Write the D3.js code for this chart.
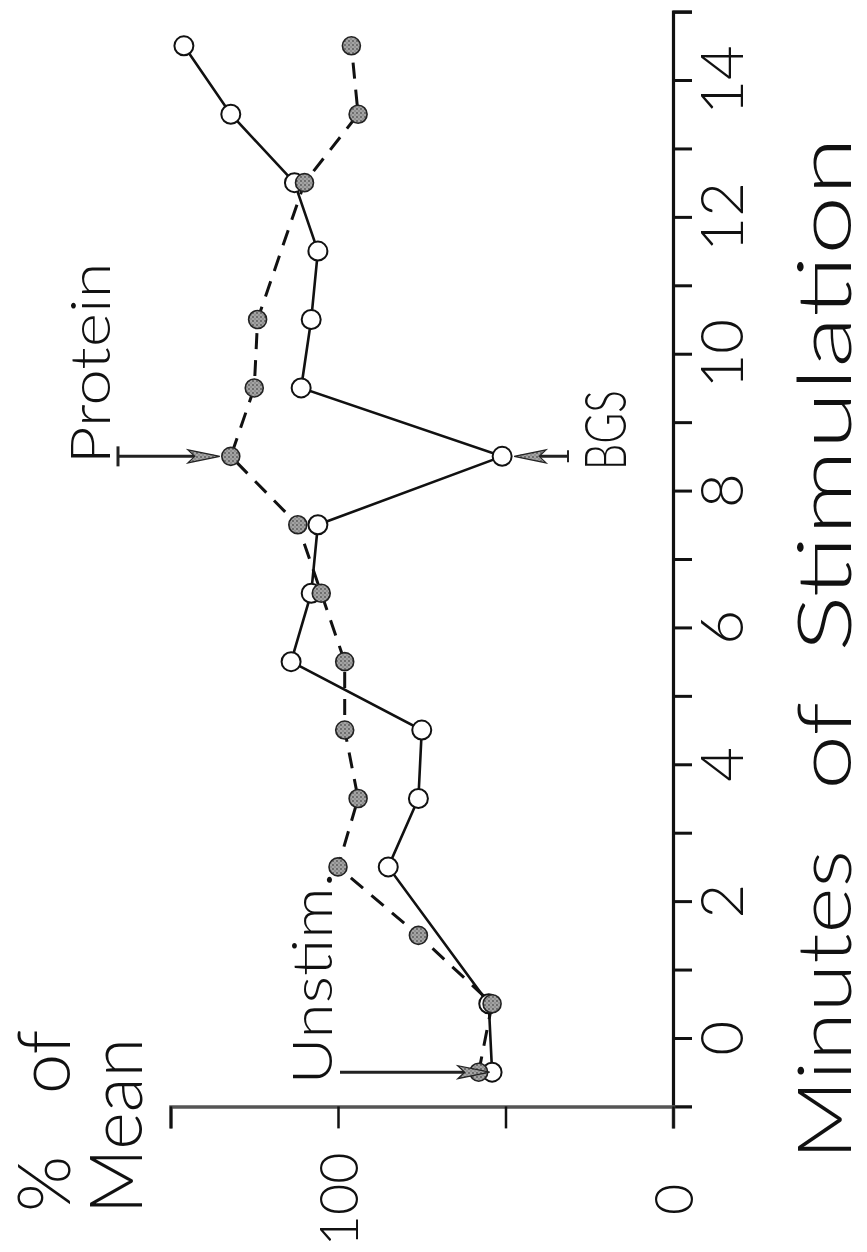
<!DOCTYPE html>
<html>
<head>
<meta charset="UTF-8">
<script src="https://cdnjs.cloudflare.com/ajax/libs/d3/7.8.5/d3.min.js"></script>
<style>
  body { margin: 0; background: #fff; }
  svg text { font-family: Lato, "DejaVu Sans", sans-serif; font-weight: 300; fill: #111; }
</style>
</head>
<body>
<svg id="chart" width="867" height="1252"></svg>
<script>
// minutes of stimulation (x) and % of mean (y); the figure is turned on its side
const bgsMinutes = [-0.5, 0.5, 2.5, 3.5, 4.5, 5.5, 6.5, 7.5, 8.5, 9.5, 10.5, 11.5, 12.5, 13.5, 14.5];
const bgsValues  = [54, 55, 85, 76, 75, 114, 108, 106, 51, 111, 108, 106, 113, 132, 146];

const proteinMinutes = [-0.5, 0.5, 1.5, 2.5, 3.5, 4.5, 5.5, 6.5, 7.5, 8.5, 9.5, 10.5, 12.5, 13.5, 14.5];
const proteinValues  = [58, 54, 76, 100, 94, 98, 98, 105, 112, 132, 125, 124, 110, 94, 96];

const minuteTicks = d3.range(0, 16);
const minuteLabels = [0, 2, 4, 6, 8, 10, 12, 14];
const percentTicks = [0, 50, 100, 150];
const percentLabels = [0, 100];

const svg = d3.select("#chart");

// stippled grey for the filled dots
const defs = svg.append("defs");
const pat = defs.append("pattern")
    .attr("id", "stipple")
    .attr("width", 4).attr("height", 4)
    .attr("patternUnits", "userSpaceOnUse");
pat.append("rect").attr("width", 4).attr("height", 4).attr("fill", "#a4a4a4");
pat.append("circle").attr("cx", 1).attr("cy", 1).attr("r", 0.9).attr("fill", "#555");
pat.append("circle").attr("cx", 3).attr("cy", 3).attr("r", 0.7).attr("fill", "#6a6a6a");

// time runs bottom -> top, percent runs right -> left
const t = d3.scaleLinear().domain([-1, 15]).range([1106.4, 11.6]);
const v = d3.scaleLinear().domain([0, 150]).range([673, 170.5]);

const x0 = v(0), y0 = t(-1);

// --- axes
const tAxis = svg.append("g")
    .attr("transform", `translate(${x0},0)`)
    .call(d3.axisRight(t).tickValues(minuteTicks).tickSize(19).tickFormat(""));
tAxis.select(".domain").attr("stroke", "#111").attr("stroke-width", 3.2);
tAxis.selectAll(".tick line").attr("stroke", "#111").attr("stroke-width", 3);

const vAxis = svg.append("g")
    .attr("transform", `translate(0,${y0})`)
    .call(d3.axisBottom(v).tickValues(percentTicks).tickSize(22).tickFormat(""));
vAxis.select(".domain").attr("stroke", "#555").attr("stroke-width", 3.5);
vAxis.selectAll(".tick line").attr("stroke", "#111").attr("stroke-width", 2.5);

svg.selectAll(".tlab").data(minuteLabels).enter().append("text")
    .attr("class", "tlab")
    .attr("transform", d => `translate(${x0 + 70},${t(d)}) rotate(-90)`)
    .attr("text-anchor", "middle")
    .attr("font-size", 60)
    .text(d => d);

svg.selectAll(".vlab").data(percentLabels).enter().append("text")
    .attr("class", "vlab")
    .attr("transform", d => `translate(${v(d) + 20},${y0 + 93}) rotate(-90)`)
    .attr("text-anchor", "middle")
    .attr("font-size", 54)
    .text(d => d);

// axis titles
const yTitle = [
  { word: "%", x: 70, start: 1212 },
  { word: "of", x: 70, start: 1094 },
  { word: "Mean", x: 142, start: 1214 }
];
svg.selectAll(".ytitle").data(yTitle).enter().append("text")
    .attr("class", "ytitle")
    .attr("transform", d => `translate(${d.x},${d.start}) rotate(-90)`)
    .attr("font-size", 72)
    .attr("font-weight", 200)
    .text(d => d.word);

const xTitle = [
  { word: "Minutes", start: 1160, len: 310 },
  { word: "of", start: 790, len: 88 },
  { word: "Stimulation", start: 652, len: 515 }
];
svg.selectAll(".xtitle").data(xTitle).enter().append("text")
    .attr("class", "xtitle")
    .attr("transform", d => `translate(851,${d.start}) rotate(-90)`)
    .attr("font-size", 74)
    .attr("font-weight", 200)
    .attr("textLength", d => d.len)
    .attr("lengthAdjust", "spacingAndGlyphs")
    .text(d => d.word);

// --- series lines
const bgsData = bgsMinutes.map((m, i) => ({ m, val: bgsValues[i] }));
const proteinData = proteinMinutes.map((m, i) => ({ m, val: proteinValues[i] }));

const line = d3.line().x(d => v(d.val)).y(d => t(d.m));

svg.append("path").datum(proteinData)
    .attr("d", line)
    .attr("fill", "none")
    .attr("stroke", "#111")
    .attr("stroke-width", 3)
    .attr("stroke-dasharray", "16 11");

svg.append("path").datum(bgsData)
    .attr("d", line)
    .attr("fill", "none")
    .attr("stroke", "#111")
    .attr("stroke-width", 2.6);

svg.selectAll(".open").data(bgsData).enter().append("circle")
    .attr("class", "open")
    .attr("cx", d => v(d.val))
    .attr("cy", d => t(d.m))
    .attr("r", 9.5)
    .attr("fill", "#fff")
    .attr("stroke", "#111")
    .attr("stroke-width", 2);

svg.selectAll(".filled").data(proteinData).enter().append("circle")
    .attr("class", "filled")
    .attr("cx", d => v(d.val))
    .attr("cy", d => t(d.m))
    .attr("r", 9)
    .attr("fill", "url(#stipple)")
    .attr("stroke", "#222")
    .attr("stroke-width", 1.6);

// --- annotation arrows
function arrow(xFrom, xTo, y) {
  const dir = Math.sign(xTo - xFrom);
  svg.append("line")
      .attr("x1", xFrom).attr("x2", xTo - dir * 6)
      .attr("y1", y).attr("y2", y)
      .attr("stroke", "#222").attr("stroke-width", 3);
  svg.append("path")
      .attr("d", `M${xTo},${y} L${xTo - dir * 32},${y - 6.5} L${xTo - dir * 25},${y} L${xTo - dir * 32},${y + 6.5} Z`)
      .attr("fill", "url(#stipple)").attr("stroke", "#222").attr("stroke-width", 1.2);
}

// Unstim.
const pU = proteinData[0];
arrow(340, v(pU.val) + 11, t(pU.m));
svg.append("text")
    .attr("transform", `translate(332,${t(pU.m) + 12}) rotate(-90)`)
    .attr("font-size", 56)
    .attr("textLength", 212)
    .attr("lengthAdjust", "spacingAndGlyphs")
    .text("Unstim.");

// Protein
const pP = proteinData[9];
arrow(118, v(pP.val) - 11, t(pP.m));
svg.append("line")
    .attr("x1", 118).attr("x2", 118)
    .attr("y1", t(pP.m) - 10).attr("y2", t(pP.m) + 10)
    .attr("stroke", "#222").attr("stroke-width", 3);
svg.append("text")
    .attr("transform", `translate(110,${t(pP.m) + 8}) rotate(-90)`)
    .attr("font-size", 56)
    .attr("textLength", 202)
    .attr("lengthAdjust", "spacingAndGlyphs")
    .text("Protein");

// BGS
const pB = bgsData[8];
arrow(568, v(pB.val) + 12, t(pB.m));
svg.append("line")
    .attr("x1", 568).attr("x2", 568)
    .attr("y1", t(pB.m) - 6).attr("y2", t(pB.m) + 6)
    .attr("stroke", "#222").attr("stroke-width", 2);
svg.append("text")
    .attr("transform", `translate(626,${t(pB.m) + 14}) rotate(-90)`)
    .attr("font-size", 58)
    .attr("textLength", 80)
    .attr("lengthAdjust", "spacingAndGlyphs")
    .text("BGS");
</script>
</body>
</html>
